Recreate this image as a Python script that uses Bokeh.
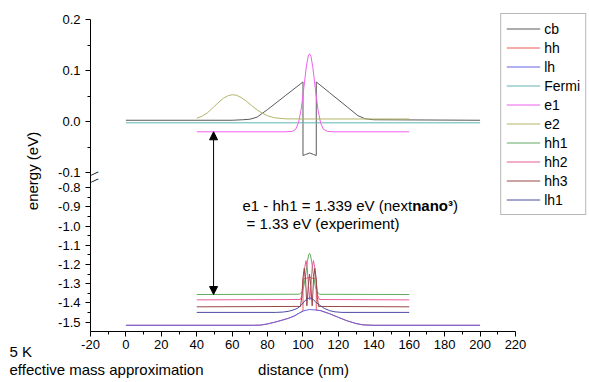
from bokeh.plotting import figure
from bokeh.models import Range1d, FixedTicker, Label, Arrow, NormalHead, LinearAxis, Title
from bokeh.embed import file_html
from bokeh.resources import INLINE

# ---------------- data (x in nm, energies in eV) ----------------
# upper (conduction-band) panel
cb_x = [0, 60, 66, 70, 74, 80, 90, 100, 100, 101.5, 103.75, 106, 107.5, 107.5, 115, 125, 131, 135, 140, 200]
cb_y = [0.003, 0.003, 0.004, 0.005, 0.009, 0.024, 0.051, 0.078, -0.066, -0.064, -0.061, -0.064, -0.066, 0.078,
        0.057, 0.029, 0.012, 0.006, 0.004, 0.003]
fermi_x = [0, 200]
fermi_y = [-0.002, -0.002]
e1_x = [40, 90, 94, 96, 97.5, 99, 100.5, 102, 103, 103.7, 104.5, 105.5, 107, 108.5, 110, 111.5, 114, 118, 160]
e1_y = [-0.0196, -0.0196, -0.0188, -0.014, -0.0014, 0.025, 0.067, 0.111, 0.129, 0.133, 0.128, 0.108, 0.064,
        0.023, -0.003, -0.0145, -0.019, -0.0196, -0.0196]
e2_x = [40, 43, 46, 49, 52, 55, 58, 60.2, 62.5, 65, 68, 71, 74, 77, 80, 84, 90, 100, 160]
e2_y = [0.007, 0.011, 0.0175, 0.027, 0.037, 0.046, 0.0515, 0.053, 0.0518, 0.0478, 0.0404, 0.0318, 0.0235,
        0.0167, 0.0118, 0.0078, 0.0058, 0.0055, 0.0055]

# lower (valence-band) panel
hh_x = [0, 72, 76, 80, 84, 88, 92, 95, 98, 100, 100, 103.7, 107.5, 107.5, 110, 115, 120, 125, 130, 134, 140, 200]
hh_y = [-1.516, -1.516, -1.515, -1.509, -1.500, -1.490, -1.479, -1.468, -1.452, -1.442, -1.275, -1.268, -1.275,
        -1.437, -1.440, -1.456, -1.475, -1.493, -1.507, -1.514, -1.516, -1.516]
lh_x = [0, 72, 76, 80, 84, 88, 92, 95, 98, 100, 103.7, 107.5, 110, 115, 120, 125, 130, 134, 140, 200]
lh_y = [-1.516, -1.516, -1.515, -1.509, -1.500, -1.490, -1.479, -1.468, -1.452, -1.442, -1.434, -1.437, -1.440,
        -1.456, -1.475, -1.493, -1.507, -1.514, -1.516, -1.516]
hh1_x = [40, 98, 99.5, 100.5, 101.5, 102.5, 103.2, 103.7, 104.2, 105, 106, 107, 108, 109.5, 160]
hh1_y = [-1.356, -1.3546, -1.342, -1.312, -1.255, -1.185, -1.150, -1.142, -1.150, -1.191, -1.261, -1.316,
         -1.344, -1.355, -1.356]
hh2_x = [40, 98.5, 99.5, 100.3, 101, 101.7, 102.4, 103.1, 103.8, 104.5, 105.2, 105.9, 106.6, 107.4, 108.3, 109.3, 160]
hh2_y = [-1.384, -1.382, -1.36, -1.29, -1.215, -1.18, -1.215, -1.31, -1.384, -1.31, -1.215, -1.18, -1.215,
         -1.29, -1.36, -1.382, -1.384]
hh3_x = [40, 98.6, 99.3, 100, 100.7, 101.4, 102.2, 103, 103.7, 104.4, 105.2, 106, 106.7, 107.4, 108.1, 108.8, 160]
hh3_y = [-1.42, -1.418, -1.37, -1.27, -1.22, -1.27, -1.415, -1.31, -1.25, -1.31, -1.415, -1.27, -1.22, -1.27,
         -1.37, -1.418, -1.42]
lh1_x = [40, 85, 89, 92, 95, 97, 99, 100.5, 102, 103.8, 105.5, 107, 108.5, 110, 112, 115, 118, 122, 160]
lh1_y = [-1.449, -1.449, -1.447, -1.443, -1.435, -1.427, -1.412, -1.395, -1.380, -1.373, -1.380, -1.393,
         -1.405, -1.415, -1.428, -1.440, -1.446, -1.449, -1.449]

# axis ticks
x_ticks = [-20, 0, 20, 40, 60, 80, 100, 120, 140, 160, 180, 200, 220]
x_labels = ["-20", "0", "20", "40", "60", "80", "100", "120", "140", "160", "180", "200", "220"]
x_minor = [-10, 10, 30, 50, 70, 90, 110, 130, 150, 170, 190, 210]
up_ticks = [0.2, 0.1, 0.0, -0.1]
up_labels = ["0.2", "0.1", "0.0", "-0.1"]
up_minor = [0.15, 0.05, -0.05]
low_ticks = [-0.8, -0.9, -1.0, -1.1, -1.2, -1.3, -1.4, -1.5]
low_labels = ["-0.8", "-0.9", "-1.0", "-1.1", "-1.2", "-1.3", "-1.4", "-1.5"]
low_minor = [-0.85, -0.95, -1.05, -1.15, -1.25, -1.35, -1.45]

# captions under the axis
temp_text = "5 K"
note_text, note_at = "effective mass approximation", -10.96
xlabel_text, xlabel_at = "distance (nm)", 100.3

# arrow between levels
arrow_x = 49.5
e1_level = -0.0196
hh1_level = -1.356

FONT = "Liberation Sans"

# ---------------- figure ----------------
lower = Range1d(-1.5483, 0.1201)   # valence panel scale (default range)
upper = Range1d(-0.4104, 0.2178)   # conduction panel scale (extra range)


def to_lower(v):
    return round(lower.start + (v - upper.start) * (lower.end - lower.start) / (upper.end - upper.start), 6)


p = figure(width=589, height=382, x_range=Range1d(-20, 261.8), y_range=lower,
           output_backend="svg", toolbar_location=None, title=None,
           min_border_left=90, min_border_right=0, min_border_top=10, min_border_bottom=51)
p.extra_y_ranges = {"up": upper}
p.background_fill_color = "white"
p.border_fill_color = "white"
p.outline_line_color = None
p.xgrid.visible = False
p.ygrid.visible = False

colors = {
    "cb": "#5a5a5a", "hh": "#f05a5a", "lh": "#6464e6", "Fermi": "#62b2b2", "e1": "#ee5fee",
    "e2": "#b4b46a", "hh1": "#62aa62", "hh2": "#e85c98", "hh3": "#9a4848", "lh1": "#4a4aa2",
}

p.line(cb_x, cb_y, y_range_name="up", line_color=colors["cb"], line_width=1, legend_label="cb")
p.line(hh_x, hh_y, line_color=colors["hh"], line_width=1, legend_label="hh")
p.line(lh_x, lh_y, line_color=colors["lh"], line_width=1, legend_label="lh")
p.line(fermi_x, fermi_y, y_range_name="up", line_color=colors["Fermi"], line_width=1, legend_label="Fermi")
p.line(e1_x, e1_y, y_range_name="up", line_color=colors["e1"], line_width=1, legend_label="e1")
p.line(e2_x, e2_y, y_range_name="up", line_color=colors["e2"], line_width=1, legend_label="e2")
p.line(hh1_x, hh1_y, line_color=colors["hh1"], line_width=1, legend_label="hh1")
p.line(hh2_x, hh2_y, line_color=colors["hh2"], line_width=1, legend_label="hh2")
p.line(hh3_x, hh3_y, line_color=colors["hh3"], line_width=1, legend_label="hh3")
p.line(lh1_x, lh1_y, line_color=colors["lh1"], line_width=1, legend_label="lh1")

# ---------------- axes ----------------
xa = p.xaxis[0]
xa.ticker = FixedTicker(ticks=x_ticks, minor_ticks=x_minor)
xa.major_label_overrides = dict(zip(x_ticks, x_labels))
xa.bounds = (-20, 220)
xa.major_label_standoff = 3

ya = p.yaxis[0]
y_major = [to_lower(v) for v in up_ticks] + low_ticks
ya.ticker = FixedTicker(ticks=y_major, minor_ticks=[to_lower(v) for v in up_minor] + low_minor)
ya.major_label_overrides = dict(zip(y_major, up_labels + low_labels))
ya.bounds = (lower.start, to_lower(0.2))
ya.axis_label = "energy (eV)"
ya.axis_label_text_font = FONT
ya.axis_label_text_font_size = "15px"
ya.axis_label_text_font_style = "normal"
ya.axis_label_text_color = "black"
ya.axis_label_standoff = 14
ya.major_label_standoff = 5

for ax in (xa, ya):
    ax.axis_line_color = "black"
    ax.axis_line_width = 1
    ax.major_tick_line_color = "black"
    ax.minor_tick_line_color = "black"
    ax.major_tick_in = 0
    ax.major_tick_out = 5
    ax.minor_tick_in = 0
    ax.minor_tick_out = 3
    ax.major_label_text_font = FONT
    ax.major_label_text_font_size = "13px"
    ax.major_label_text_color = "black"

# temperature caption, tucked beside the tick-label row (left of the frame)
p.add_layout(Title(text=temp_text, align="left", offset=-81, standoff=-17, vertical_align="top",
                   text_font=FONT, text_font_size="15px", text_font_style="normal",
                   text_color="black"), "below")

# caption row: note + axis title, as tick labels of a bare axis
cap = LinearAxis(ticker=FixedTicker(ticks=[note_at, xlabel_at], minor_ticks=[]), bounds=(-11.5, 101.0),
                 major_label_overrides={note_at: note_text, xlabel_at: xlabel_text},
                 axis_line_color=None, major_tick_line_color=None, minor_tick_line_color=None,
                 major_tick_in=0, major_tick_out=0, minor_tick_in=0, minor_tick_out=0,
                 major_label_standoff=7, major_label_text_font=FONT,
                 major_label_text_font_size="15px", major_label_text_color="black")
p.add_layout(cap, "below")

# axis break marks
for yv, rng in ((-0.1012, "up"), (-0.7636, "default")):
    p.add_layout(Label(x=-18.9, y=yv, y_range_name=rng, text="\u2014", angle=0.45,
                       text_align="center", text_baseline="middle", text_font=FONT,
                       text_font_size="12px", text_color="black"))

# ---------------- legend ----------------
lg = p.legend[0]
lg.location = "top_right"
lg.margin = 3
lg.padding = 5
lg.spacing = 0
lg.label_height = 19
lg.glyph_height = 19
lg.glyph_width = 34
lg.label_standoff = 4
lg.label_text_font = FONT
lg.label_text_font_size = "14px"
lg.label_text_color = "black"
lg.border_line_color = "#707070"
lg.border_line_width = 1
lg.background_fill_color = "white"
lg.background_fill_alpha = 1.0

# ---------------- arrow + annotations ----------------
p.add_layout(Arrow(start=NormalHead(size=8, fill_color="black", line_color="black"),
                   end=NormalHead(size=8, fill_color="black", line_color="black"),
                   x_start=arrow_x, y_start=hh1_level, x_end=arrow_x, y_end=to_lower(e1_level),
                   line_color="black", line_width=1))

ann_kw = dict(text_font=FONT, text_font_size="15px", text_color="black", text_baseline="middle")
p.add_layout(Label(x=65.8, y=-0.8936, text="e1 - hh1 = 1.339 eV (next", **ann_kw))
p.add_layout(Label(x=65.8, y=-0.8936, x_offset=169.7, text="nano\u00b3", text_font_style="bold", **ann_kw))
p.add_layout(Label(x=65.8, y=-0.8936, x_offset=210.5, text=")", **ann_kw))
p.add_layout(Label(x=68.1, y=-0.987, text="= 1.33 eV (experiment)", **ann_kw))

open("out.html", "w").write(file_html(p, INLINE))
